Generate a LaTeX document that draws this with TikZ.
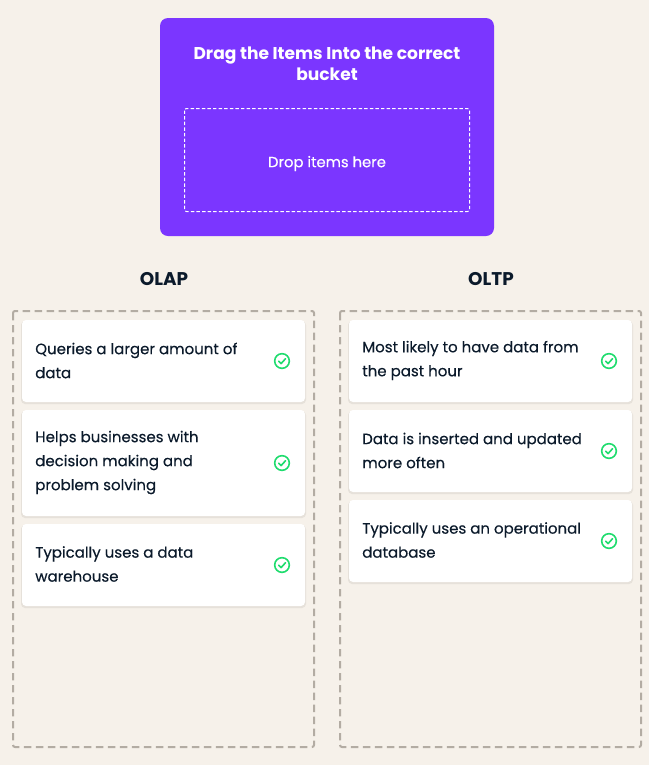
\documentclass[tikz,border=0pt]{standalone}
\usepackage{fontspec}
\setmainfont{Poppins}
\newfontfamily\medfont[FakeBold=0.25]{Poppins}
\usetikzlibrary{calc}
\definecolor{bgc}{HTML}{F6F1EA}
\definecolor{purp}{HTML}{7B36FF}
\definecolor{ink}{HTML}{0B1A2B}
\definecolor{dashc}{HTML}{B3ACA3}
\definecolor{okc}{HTML}{1FDC6E}
\definecolor{shadc}{HTML}{E6E1DA}
\tikzset{
  panel/.style={fill=purp,rounded corners=6pt},
  dropzone/.style={draw=white,line width=.75pt,dash pattern=on 2.6pt off 1.6pt,rounded corners=1.5pt},
  bucket/.style={draw=dashc,line width=1.5pt,dash pattern=on 5.6pt off 3.4pt,rounded corners=1.5pt},
  card/.style={fill=white,rounded corners=3pt},
  cardshadow/.style={fill=shadc,rounded corners=3pt},
  cardtext/.style={anchor=west,align=left,text=ink,inner sep=0pt,font=\medfont\fontsize{11.25pt}{18pt}\selectfont},
  headtext/.style={text=ink,inner sep=0pt,font=\fontsize{13.8pt}{16pt}\selectfont\bfseries},
  okring/.style={draw=okc,line width=1.2pt,circle,minimum size=11pt,inner sep=0pt},
  okmark/.style={draw=okc,line width=1.2pt,line cap=round,line join=round},
}
\newcommand{\cardbox}[5]{% name, x0, y0, x1, y1
  \fill[cardshadow] (#2-1,#3+1) rectangle (#4+1,#5+2);
  \path[card] (#2,#3) rectangle (#4,#5);
  \node[okring] (#1ok) at (#4-23,{(#3+#5)/2}) {};
  \draw[okmark] ($(#1ok.center)+(-3.4,0.2)$) -- ($(#1ok.center)+(-0.9,2.6)$) -- ($(#1ok.center)+(3.6,-2.4)$);
}
\begin{document}
\begin{tikzpicture}[x=0.75pt,y=-0.75pt]
\fill[bgc] (0,0) rectangle (649,765);
\useasboundingbox (0,0) rectangle (649,765);
\path[panel] (160,18) rectangle (494,236);
\draw[dropzone] (184.5,108.5) rectangle (469.5,211.5);
\node[align=center,text=white,inner sep=0pt,font=\fontsize{12.8pt}{15.8pt}\selectfont\bfseries] (title) at (327,63.5) {Drag the Items Into the correct\\bucket};
\node[text=white,inner sep=0pt,font=\medfont\fontsize{11.1pt}{15pt}\selectfont] (drop) at (327,163.5) {Drop items here};
\node[headtext] (olap) at (164,279) {OLAP};
\node[headtext] (oltp) at (491,279) {OLTP};
\draw[bucket] (13,311) rectangle (314,747);
\draw[bucket] (340,311) rectangle (641,747);
\cardbox{a}{22}{320}{305}{402}
\node[cardtext] (at) at (35,360.5) {Queries a larger amount of\\data};
\cardbox{b}{22}{410}{305}{516}
\node[cardtext] (bt) at (35,462.5) {Helps businesses with\\decision making and\\problem solving};
\cardbox{c}{22}{524}{305}{606}
\node[cardtext] (ct) at (35,564) {Typically uses a data\\warehouse};
\cardbox{d}{349}{320}{632}{402}
\node[cardtext] (dt) at (362,360.5) {Most likely to have data from\\the past hour};
\cardbox{e}{349}{410}{632}{492}
\node[cardtext] (et) at (362,450.5) {Data is inserted and updated\\more often};
\cardbox{f}{349}{500}{632}{582}
\node[cardtext] (ft) at (362,540) {Typically uses an operational\\database};
\end{tikzpicture}
\end{document}
